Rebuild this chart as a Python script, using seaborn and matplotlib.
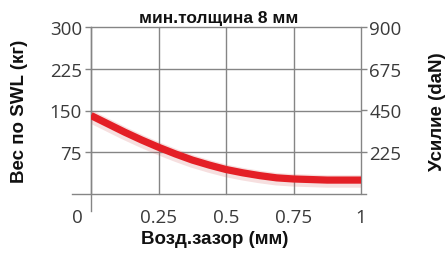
import numpy as np
import pandas as pd
import matplotlib
matplotlib.use("Agg")
import matplotlib.pyplot as plt
import matplotlib.patheffects as pe
from matplotlib.transforms import ScaledTranslation
import seaborn as sns

# data
gap_mm = [0, 0.0625, 0.125, 0.1875, 0.25, 0.3125, 0.375, 0.4375, 0.5,
          0.5625, 0.625, 0.6875, 0.75, 0.875, 1.0]
swl_kg = [141, 126, 111, 97, 84, 72, 61, 52, 44,
          38, 33, 29, 27, 25, 25]
x_ticks = [0, 0.25, 0.5, 0.75, 1]
x_labels = ["0", "0.25", "0.5", "0.75", "1"]
y_ticks = [75, 150, 225, 300]
y2_ticks = [225, 450, 675, 900]

title = "мин.толщина 8 мм"
xlab = "Возд.зазор (мм)"
ylab = "Вес по SWL (кг)"
y2lab = "Усилие (daN)"

df = pd.DataFrame({"gap": gap_mm, "swl": swl_kg})

sns.set_style("white")
plt.rcParams["font.family"] = ["Open Sans", "DejaVu Sans"]

grid_c = "#858585"
tick_c = "#3a3a3a"
red = "#e41f26"

fig = plt.figure(figsize=(4.47, 2.55), dpi=100)
ax = fig.add_axes([91/447, 60/255, 270/447, 167/255])

sns.lineplot(data=df, x="gap", y="swl", ax=ax, color=red, linewidth=5.2,
             solid_capstyle="butt", solid_joinstyle="round", zorder=5,
             path_effects=[pe.SimpleLineShadow(offset=(0, -1), shadow_color="#d05050",
                                                alpha=0.18, linewidth=9),
                           pe.Normal()])

ax.set_xlim(0, 1)
ax.set_ylim(0, 300)
ax.set_xticks(x_ticks)
ax.set_xticklabels(x_labels)
ax.set_yticks(y_ticks)
ax.grid(True, color=grid_c, linewidth=1.0)
ax.set_axisbelow(True)
# keep the lines at the edges (x=1, y=300) at full width
for gl in ax.get_xgridlines() + ax.get_ygridlines():
    gl.set_clip_on(False)

for s in ["top", "right"]:
    ax.spines[s].set_visible(False)
ax.spines["bottom"].set_bounds(-0.07, 1.02)
ax.spines["left"].set_bounds(-30, 300)
for s in ["bottom", "left"]:
    ax.spines[s].set_color(grid_c)
    ax.spines[s].set_linewidth(1.0)

ax.tick_params(axis="x", direction="out", length=7, width=1.0, color=grid_c,
               pad=3, labelsize=13.5, labelcolor=tick_c)
ax.tick_params(axis="y", direction="out", length=4.5, width=1.0, color=grid_c,
               pad=2, labelsize=13.5, labelcolor=tick_c)

# the "0" sits left of the axis line
lab0 = ax.get_xticklabels()[0]
lab0.set_transform(lab0.get_transform() + ScaledTranslation(-10/72, 0, fig.dpi_scale_trans))

ax2 = ax.twinx()
ax2.set_ylim(0, 900)
ax2.set_yticks(y2_ticks)
for s in ax2.spines.values():
    s.set_visible(False)
ax2.tick_params(axis="y", direction="out", length=4.5, width=1.0, color=grid_c,
                pad=1.5, labelsize=13.5, labelcolor=tick_c)

bold = dict(family=["Liberation Sans", "DejaVu Sans"], weight="bold", color="#111111")
ax.set_xlabel(xlab, fontsize=13.5, **bold)
ax.set_ylabel(ylab, fontsize=13.5, **bold)
ax2.set_ylabel(y2lab, fontsize=13.5, **bold)
ax.xaxis.set_label_coords(0.459, -0.215)
ax.yaxis.set_label_coords(-0.235, 0.5)
ax2.yaxis.set_label_coords(1.252, 0.5)

ax.text(0.474, 1.03, title, transform=ax.transAxes, ha="center", va="baseline",
        fontsize=12.5, **bold)

fig.savefig("out.png", dpi=100)
